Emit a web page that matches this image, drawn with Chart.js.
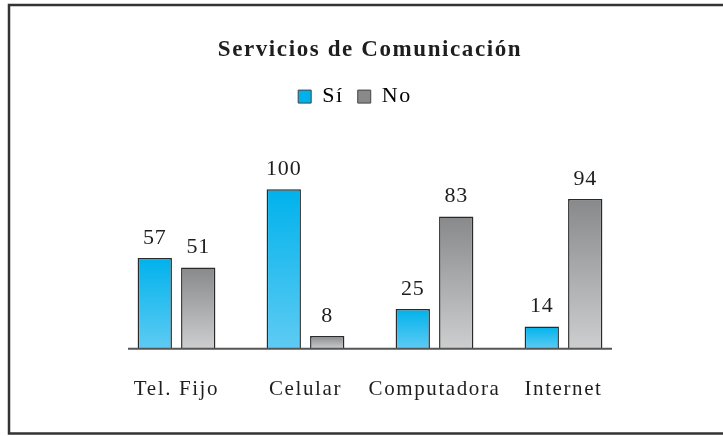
<!DOCTYPE html>
<html>
<head>
<meta charset="utf-8">
<script src="https://cdn.jsdelivr.net/npm/chart.js@4"></script>
<style>
  html, body { margin: 0; padding: 0; background: #fff; }
  #wrap { width: 723px; height: 436px; }
</style>
</head>
<body>
<div id="wrap"><canvas id="chart"></canvas></div>
<script>
const categories = ['Tel. Fijo', 'Celular', 'Computadora', 'Internet'];
const siValues = [57, 100, 25, 14];
const noValues = [51, 8, 83, 94];
const seriesNames = ['Sí', 'No'];

const serif = "'Liberation Serif', 'Times New Roman', serif";
const siColors = ['#00b2ec', '#5ecbf3'];
const noColors = ['#88898b', '#cdcecf'];

// vertical gradient for each bar, from its top to the baseline
function barGradient(colors) {
    return function(context) {
        const chart = context.chart;
        const yScale = chart.scales.y;
        if (!chart.chartArea || !yScale || context.raw == null) return colors[0];
        const top = yScale.getPixelForValue(context.raw);
        const bottom = yScale.getPixelForValue(0);
        const g = chart.ctx.createLinearGradient(0, top, 0, bottom);
        g.addColorStop(0, colors[0]);
        g.addColorStop(1, colors[1]);
        return g;
    };
}

// the text in the original is set a little wide
const spacingPlugin = {
    id: 'spacing',
    beforeUpdate(chart) { chart.ctx.letterSpacing = '1.6px'; },
    beforeDraw(chart) { chart.ctx.letterSpacing = '1.6px'; },
    afterLayout(chart) {
        // legend sits a bit left of the centre in the original
        chart.legend.left -= 15;
        chart.legend.right -= 15;
    }
};

const framePlugin = {
    id: 'frame',
    beforeDraw(chart) {
        const ctx = chart.ctx;
        ctx.save();
        ctx.fillStyle = '#fff';
        ctx.fillRect(0, 0, chart.width, chart.height);
        ctx.strokeStyle = '#333';
        ctx.lineWidth = 2.5;
        ctx.beginPath();
        ctx.moveTo(chart.width + 5, 5);
        ctx.lineTo(9, 5);
        ctx.lineTo(9, 433.5);
        ctx.lineTo(chart.width + 5, 433.5);
        ctx.stroke();
        ctx.restore();
    }
};

const baselinePlugin = {
    id: 'baseline',
    afterDatasetsDraw(chart) {
        const ctx = chart.ctx;
        const area = chart.chartArea;
        const y = chart.scales.y.getPixelForValue(0);
        ctx.save();
        ctx.strokeStyle = '#555';
        ctx.lineWidth = 2;
        ctx.beginPath();
        ctx.moveTo(area.left + 16, y);
        ctx.lineTo(area.right - 16, y);
        ctx.stroke();

        // value labels above the bars
        ctx.letterSpacing = '0.8px';
        ctx.font = '22px ' + serif;
        ctx.fillStyle = '#1e1e1e';
        ctx.textAlign = 'center';
        ctx.textBaseline = 'alphabetic';
        chart.data.datasets.forEach((ds, i) => {
            chart.getDatasetMeta(i).data.forEach((bar, j) => {
                ctx.fillText(String(ds.data[j]), bar.x, bar.y - 14);
            });
        });
        ctx.restore();
    }
};

new Chart(document.getElementById('chart'), {
    type: 'bar',
    data: {
        labels: categories,
        datasets: [{
            label: seriesNames[0],
            data: siValues,
            backgroundColor: barGradient(siColors),
            borderColor: '#2a2a2a',
            borderWidth: 1.5
        }, {
            label: seriesNames[1],
            data: noValues,
            backgroundColor: barGradient(noColors),
            borderColor: '#2a2a2a',
            borderWidth: 1.5
        }]
    },
    options: {
        responsive: true,
        maintainAspectRatio: false,
        animation: false,
        categoryPercentage: 0.674,
        barPercentage: 0.79,
        layout: {
            padding: { left: 112, right: 95, top: 0, bottom: 6 }
        },
        scales: {
            x: {
                grid: { display: false, drawTicks: false },
                border: { display: false },
                ticks: {
                    padding: 28,
                    color: '#1e1e1e',
                    autoSkip: false,
                    maxRotation: 0,
                    minRotation: 0,
                    font: { family: serif, size: 21 }
                }
            },
            y: {
                display: false,
                min: 0,
                max: 145
            }
        },
        plugins: {
            title: {
                display: true,
                text: 'Servicios de Comunicación',
                color: '#1e1e1e',
                font: { family: serif, size: 23, weight: 'bold' },
                padding: { top: 36, bottom: 8 }
            },
            legend: {
                position: 'top',
                labels: {
                    boxWidth: 13,
                    boxHeight: 13,
                    padding: 14,
                    color: '#1e1e1e',
                    font: { family: serif, size: 22 },
                    generateLabels(chart) {
                        const fills = [siColors, noColors];
                        return chart.data.datasets.map((ds, i) => ({
                            text: ds.label,
                            fillStyle: fills[i][0],
                            strokeStyle: '#444',
                            lineWidth: 1,
                            datasetIndex: i,
                            hidden: false
                        }));
                    }
                }
            },
            tooltip: { enabled: false }
        }
    },
    plugins: [spacingPlugin, framePlugin, baselinePlugin]
});
</script>
</body>
</html>
